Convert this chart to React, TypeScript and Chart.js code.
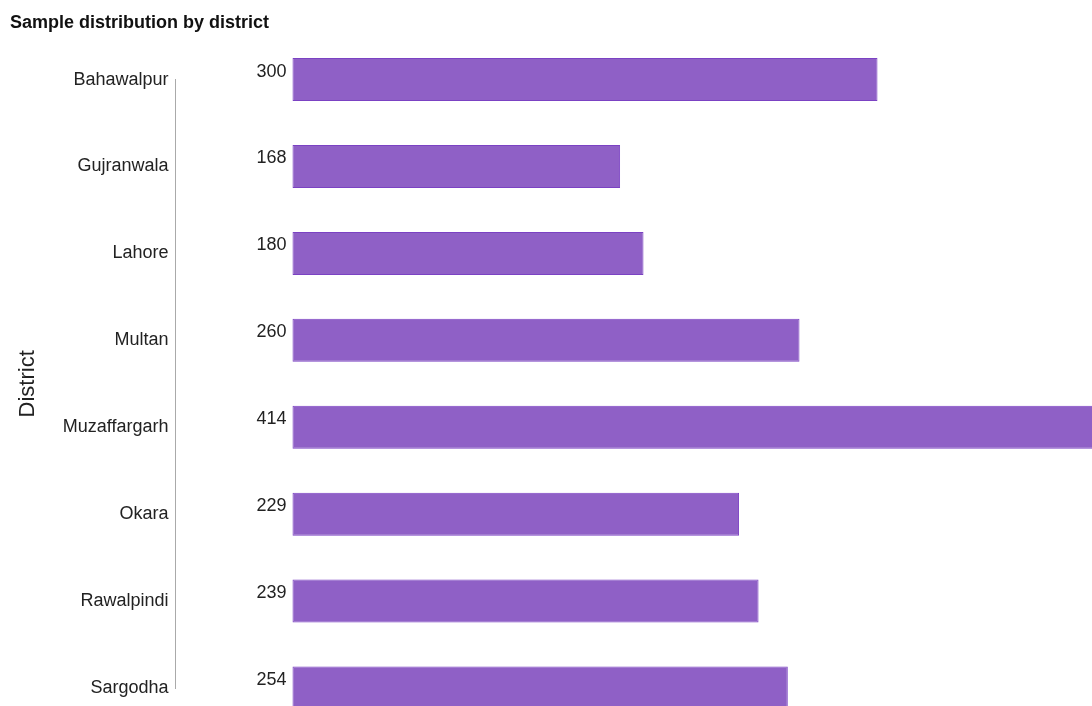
import React, { useEffect, useRef } from "react";
import { Chart, registerables } from "chart.js";

Chart.register(...registerables);

const districts = [
  "Bahawalpur",
  "Gujranwala",
  "Lahore",
  "Multan",
  "Muzaffargarh",
  "Okara",
  "Rawalpindi",
  "Sargodha",
];
const sampleCounts = [300, 168, 180, 260, 414, 229, 239, 254];

const FONT = "'Liberation Sans', Arial, sans-serif";

const valueLabelPlugin = {
  id: "valueLabels",
  afterDatasetsDraw(chart: any) {
    const ctx = chart.ctx;
    const meta = chart.getDatasetMeta(0);
    const data = chart.data.datasets[0].data as number[];
    ctx.save();
    ctx.font = `18px ${FONT}`;
    ctx.fillStyle = "#222";
    ctx.textAlign = "right";
    ctx.textBaseline = "middle";
    meta.data.forEach((bar: any, i: number) => {
      ctx.fillText(String(data[i]), bar.base - 6, bar.y - 8);
    });
    ctx.restore();
  },
};

export default function App() {
  const ref = useRef<HTMLCanvasElement | null>(null);

  useEffect(() => {
    if (!ref.current) return;
    const chart = new Chart(ref.current, {
      type: "bar",
      data: {
        labels: districts,
        datasets: [
          {
            data: sampleCounts,
            backgroundColor: "#8f60c6",
            borderColor: "#7b42c3",
            borderWidth: 1,
            borderSkipped: false,
            categoryPercentage: 1,
            barPercentage: 0.495,
            clip: false,
          },
        ],
      },
      options: {
        indexAxis: "y",
        responsive: false,
        animation: false,
        devicePixelRatio: 1,
        layout: { padding: { left: 10, right: 0, top: 0, bottom: 18 } },
        plugins: {
          legend: { display: false },
          tooltip: { enabled: false },
          title: {
            display: true,
            text: "Sample distribution by district",
            align: "start",
            color: "#111",
            font: { family: FONT, size: 18, weight: "bold" },
            padding: { top: 12, bottom: 46 },
          },
        },
        scales: {
          x: {
            display: false,
            min: -60,
            max: 410,
          },
          y: {
            offset: false,
            grid: { display: false, drawTicks: false },
            border: { display: true, color: "#aaaaaa", width: 1 },
            ticks: {
              padding: 7,
              color: "#222",
              font: { family: FONT, size: 18 },
            },
            title: {
              display: true,
              text: "District",
              color: "#222",
              font: { family: FONT, size: 22 },
              padding: { top: 5, bottom: 0 },
            },
            afterFit: (scale: any) => {
              scale.width = 165.5;
            },
          },
        },
      },
      plugins: [valueLabelPlugin],
    });
    return () => chart.destroy();
  }, []);

  return (
    <div style={{ position: "absolute", left: 0, top: 0, width: 1092, height: 706 }}>
      <canvas ref={ref} width={1092} height={706} />
    </div>
  );
}
